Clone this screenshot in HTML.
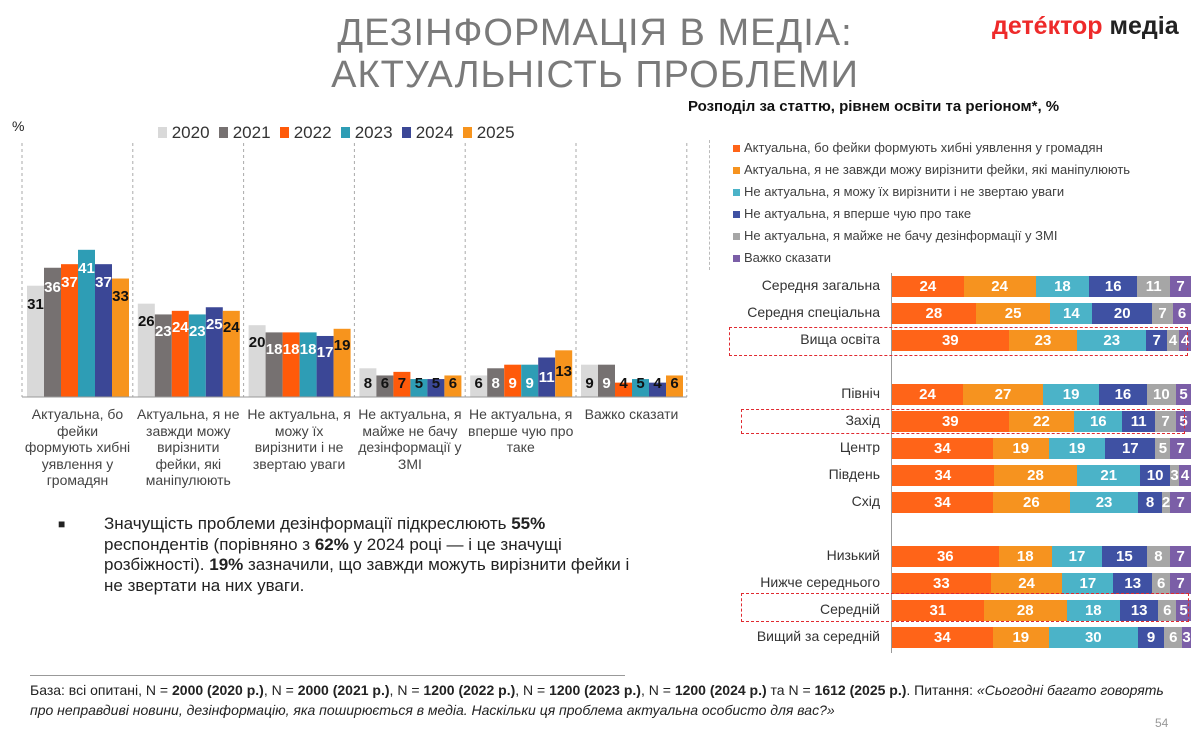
<!DOCTYPE html>
<html><head><meta charset="utf-8"><style>
body{margin:0;width:1200px;height:752px;background:#fff;position:relative;overflow:hidden;font-family:"Liberation Sans","DejaVu Sans",sans-serif;color:#222}
.a{position:absolute}
.row{position:absolute;left:892px;width:299px;height:21px;display:flex}
.row div{color:#fff;font-weight:bold;font-size:15px;text-align:center;line-height:21px;overflow:visible;white-space:nowrap}
.c1{background:#ff6418}.c2{background:#f6931f}.c3{background:#4bb3c8}.c4{background:#3f51a3}.c5{background:#a6a6a6}.c6{background:#7b5ea7}
.lab{position:absolute;right:320px;font-size:14px;color:#333;text-align:right;white-space:nowrap}
.lg{position:absolute;left:733px;font-size:13px;color:#404040}
.lg span{display:inline-block;width:7px;height:7px;margin-right:4px}
.box{position:absolute;border:1.5px dashed #e02a30}
.xl{position:absolute;width:111px;text-align:center;font-size:14px;line-height:16.5px;color:#444}
</style></head><body>
<div class="a" style="left:0;width:1190px;top:12px;text-align:center;font-size:38px;line-height:42px;color:#7a7a7a;letter-spacing:1px">ДЕЗІНФОРМАЦІЯ В МЕДІА:<br>АКТУАЛЬНІСТЬ ПРОБЛЕМИ</div>
<div class="a" style="left:992px;top:12px;font-size:25px;font-weight:bold;color:#ee2a2a">детéктор <span style="color:#222">медіа</span></div>
<div class="a" style="left:688px;top:98px;font-size:15px;font-weight:bold;color:#111">Розподіл за статтю, рівнем освіти та регіоном*, %</div>
<div class="a" style="left:12px;top:118px;font-size:14px">%</div>
<div class="a" style="left:158px;top:123px;font-size:17px;color:#333;white-space:nowrap">
<span style="display:inline-block;width:9px;height:11px;background:#d9d9d9"></span> 2020 &nbsp;<span style="display:inline-block;width:9px;height:11px;background:#767171"></span> 2021 &nbsp;<span style="display:inline-block;width:9px;height:11px;background:#ff5a0a"></span> 2022 &nbsp;<span style="display:inline-block;width:9px;height:11px;background:#2e9db5"></span> 2023 &nbsp;<span style="display:inline-block;width:9px;height:11px;background:#3b4796"></span> 2024 &nbsp;<span style="display:inline-block;width:9px;height:11px;background:#f7941d"></span> 2025</div>
<svg class="a" style="left:0;top:0" width="700" height="752">
<g stroke="#aaa" stroke-dasharray="3,3" stroke-width="1">
<line x1="22" y1="143" x2="22" y2="397"/><line x1="132.8" y1="143" x2="132.8" y2="397"/><line x1="243.6" y1="143" x2="243.6" y2="397"/><line x1="354.4" y1="143" x2="354.4" y2="397"/><line x1="465.2" y1="143" x2="465.2" y2="397"/><line x1="576" y1="143" x2="576" y2="397"/><line x1="686.8" y1="143" x2="686.8" y2="397"/></g>
<g transform="translate(0,397) scale(1,-3.59)">
<g fill="#d9d9d9"><rect x="27" width="17" height="31"/><rect x="137.8" width="17" height="26"/><rect x="248.6" width="17" height="20"/><rect x="359.4" width="17" height="8"/><rect x="470.2" width="17" height="6"/><rect x="581" width="17" height="9"/></g>
<g fill="#767171"><rect x="44" width="17" height="36"/><rect x="154.8" width="17" height="23"/><rect x="265.6" width="17" height="18"/><rect x="376.4" width="17" height="6"/><rect x="487.2" width="17" height="8"/><rect x="598" width="17" height="9"/></g>
<g fill="#ff5a0a"><rect x="61" width="17" height="37"/><rect x="171.8" width="17" height="24"/><rect x="282.6" width="17" height="18"/><rect x="393.4" width="17" height="7"/><rect x="504.2" width="17" height="9"/><rect x="615" width="17" height="4"/></g>
<g fill="#2e9db5"><rect x="78" width="17" height="41"/><rect x="188.8" width="17" height="23"/><rect x="299.6" width="17" height="18"/><rect x="410.4" width="17" height="5"/><rect x="521.2" width="17" height="9"/><rect x="632" width="17" height="5"/></g>
<g fill="#3b4796"><rect x="95" width="17" height="37"/><rect x="205.8" width="17" height="25"/><rect x="316.6" width="17" height="17"/><rect x="427.4" width="17" height="5"/><rect x="538.2" width="17" height="11"/><rect x="649" width="17" height="4"/></g>
<g fill="#f7941d"><rect x="112" width="17" height="33"/><rect x="222.8" width="17" height="24"/><rect x="333.6" width="17" height="19"/><rect x="444.4" width="17" height="6"/><rect x="555.2" width="17" height="13"/><rect x="666" width="17" height="6"/></g>
</g>
<line x1="22" y1="397" x2="687" y2="397" stroke="#999"/>
<g font-size="15" font-weight="bold" text-anchor="middle" font-family="Liberation Sans Narrow,Liberation Sans,sans-serif">
<text x="35.5" y="309" fill="#111">31</text><text x="52.5" y="292" fill="#fff">36</text><text x="69.5" y="287" fill="#fff">37</text><text x="86.5" y="273" fill="#fff">41</text><text x="103.5" y="287" fill="#fff">37</text><text x="120.5" y="301" fill="#111">33</text>
<text x="146.3" y="326" fill="#111">26</text><text x="163.3" y="336" fill="#fff">23</text><text x="180.3" y="332" fill="#fff">24</text><text x="197.3" y="336" fill="#fff">23</text><text x="214.3" y="329" fill="#fff">25</text><text x="231.3" y="332" fill="#111">24</text>
<text x="257.1" y="347" fill="#111">20</text><text x="274.1" y="354" fill="#fff">18</text><text x="291.1" y="354" fill="#fff">18</text><text x="308.1" y="354" fill="#fff">18</text><text x="325.1" y="357" fill="#fff">17</text><text x="342.1" y="350" fill="#111">19</text>
<text x="367.9" y="388" fill="#111">8</text><text x="384.9" y="388" fill="#111">6</text><text x="401.9" y="388" fill="#111">7</text><text x="418.9" y="388" fill="#111">5</text><text x="435.9" y="388" fill="#111">5</text><text x="452.9" y="388" fill="#111">6</text>
<text x="478.7" y="388" fill="#111">6</text><text x="495.7" y="388" fill="#fff">8</text><text x="512.7" y="388" fill="#fff">9</text><text x="529.7" y="388" fill="#fff">9</text><text x="546.7" y="382" fill="#fff">11</text><text x="563.7" y="376" fill="#111">13</text>
<text x="589.5" y="388" fill="#111">9</text><text x="606.5" y="388" fill="#fff">9</text><text x="623.5" y="388" fill="#111">4</text><text x="640.5" y="388" fill="#111">5</text><text x="657.5" y="388" fill="#111">4</text><text x="674.5" y="388" fill="#111">6</text>
</g></svg>
<div class="xl" style="left:22px;top:406px">Актуальна, бо фейки формують хибні уявлення у громадян</div>
<div class="xl" style="left:132.8px;top:406px">Актуальна, я не завжди можу вирізнити фейки, які маніпулюють</div>
<div class="xl" style="left:243.6px;top:406px">Не актуальна, я можу їх вирізнити і не звертаю уваги</div>
<div class="xl" style="left:354.4px;top:406px">Не актуальна, я майже не бачу дезінформації у ЗМІ</div>
<div class="xl" style="left:465.2px;top:406px">Не актуальна, я вперше чую про таке</div>
<div class="xl" style="left:576px;top:406px">Важко сказати</div>

<div class="a" style="left:58px;top:517px;font-size:12px">■</div>
<div class="a" style="left:104px;top:514px;width:540px;font-size:17px;line-height:20.5px;color:#222">Значущість проблеми дезінформації підкреслюють <b>55%</b> респондентів (порівняно з <b>62%</b> у 2024 році — і це значущі розбіжності). <b>19%</b> зазначили, що завжди можуть вирізнити фейки і не звертати на них уваги.</div>

<div class="lg" style="top:140px"><span class="c1"></span>Актуальна, бо фейки формують хибні уявлення у громадян</div>
<div class="lg" style="top:162px"><span class="c2"></span>Актуальна, я не завжди можу вирізнити фейки, які маніпулюють</div>
<div class="lg" style="top:184px"><span class="c3"></span>Не актуальна, я можу їх вирізнити і не звертаю уваги</div>
<div class="lg" style="top:206px"><span class="c4"></span>Не актуальна, я вперше чую про таке</div>
<div class="lg" style="top:228px"><span class="c5"></span>Не актуальна, я майже не бачу дезінформації у ЗМІ</div>
<div class="lg" style="top:250px"><span class="c6"></span>Важко сказати</div>
<div class="a" style="left:709px;top:140px;height:130px;border-left:1px dashed #bbb"></div>
<div class="a" style="left:891px;top:273px;height:380px;border-left:1.5px solid #999"></div>

<div class="lab" style="top:277px">Середня загальна</div>
<div class="row" style="top:276px"><div class="c1" style="flex:24">24</div><div class="c2" style="flex:24">24</div><div class="c3" style="flex:18">18</div><div class="c4" style="flex:16">16</div><div class="c5" style="flex:11">11</div><div class="c6" style="flex:7">7</div></div>
<div class="lab" style="top:304px">Середня спеціальна</div>
<div class="row" style="top:303px"><div class="c1" style="flex:28">28</div><div class="c2" style="flex:25">25</div><div class="c3" style="flex:14">14</div><div class="c4" style="flex:20">20</div><div class="c5" style="flex:7">7</div><div class="c6" style="flex:6">6</div></div>
<div class="lab" style="top:331px">Вища освіта</div>
<div class="row" style="top:330px"><div class="c1" style="flex:39">39</div><div class="c2" style="flex:23">23</div><div class="c3" style="flex:23">23</div><div class="c4" style="flex:7">7</div><div class="c5" style="flex:4">4</div><div class="c6" style="flex:4">4</div></div>

<div class="lab" style="top:385px">Північ</div>
<div class="row" style="top:384px"><div class="c1" style="flex:24">24</div><div class="c2" style="flex:27">27</div><div class="c3" style="flex:19">19</div><div class="c4" style="flex:16">16</div><div class="c5" style="flex:10">10</div><div class="c6" style="flex:5">5</div></div>
<div class="lab" style="top:412px">Захід</div>
<div class="row" style="top:411px"><div class="c1" style="flex:39">39</div><div class="c2" style="flex:22">22</div><div class="c3" style="flex:16">16</div><div class="c4" style="flex:11">11</div><div class="c5" style="flex:7">7</div><div class="c6" style="flex:5">5</div></div>
<div class="lab" style="top:439px">Центр</div>
<div class="row" style="top:438px"><div class="c1" style="flex:34">34</div><div class="c2" style="flex:19">19</div><div class="c3" style="flex:19">19</div><div class="c4" style="flex:17">17</div><div class="c5" style="flex:5">5</div><div class="c6" style="flex:7">7</div></div>
<div class="lab" style="top:466px">Південь</div>
<div class="row" style="top:465px"><div class="c1" style="flex:34">34</div><div class="c2" style="flex:28">28</div><div class="c3" style="flex:21">21</div><div class="c4" style="flex:10">10</div><div class="c5" style="flex:3">3</div><div class="c6" style="flex:4">4</div></div>
<div class="lab" style="top:493px">Схід</div>
<div class="row" style="top:492px"><div class="c1" style="flex:34">34</div><div class="c2" style="flex:26">26</div><div class="c3" style="flex:23">23</div><div class="c4" style="flex:8">8</div><div class="c5" style="flex:2">2</div><div class="c6" style="flex:7">7</div></div>

<div class="lab" style="top:547px">Низький</div>
<div class="row" style="top:546px"><div class="c1" style="flex:36">36</div><div class="c2" style="flex:18">18</div><div class="c3" style="flex:17">17</div><div class="c4" style="flex:15">15</div><div class="c5" style="flex:8">8</div><div class="c6" style="flex:7">7</div></div>
<div class="lab" style="top:574px">Нижче середнього</div>
<div class="row" style="top:573px"><div class="c1" style="flex:33">33</div><div class="c2" style="flex:24">24</div><div class="c3" style="flex:17">17</div><div class="c4" style="flex:13">13</div><div class="c5" style="flex:6">6</div><div class="c6" style="flex:7">7</div></div>
<div class="lab" style="top:601px">Середній</div>
<div class="row" style="top:600px"><div class="c1" style="flex:31">31</div><div class="c2" style="flex:28">28</div><div class="c3" style="flex:18">18</div><div class="c4" style="flex:13">13</div><div class="c5" style="flex:6">6</div><div class="c6" style="flex:5">5</div></div>
<div class="lab" style="top:628px">Вищий за середній</div>
<div class="row" style="top:627px"><div class="c1" style="flex:34">34</div><div class="c2" style="flex:19">19</div><div class="c3" style="flex:30">30</div><div class="c4" style="flex:9">9</div><div class="c5" style="flex:6">6</div><div class="c6" style="flex:3">3</div></div>

<div class="box" style="left:729px;top:327px;width:457px;height:27px"></div>
<div class="box" style="left:741px;top:409px;width:442px;height:23px"></div>
<div class="box" style="left:741px;top:593px;width:446px;height:27px"></div>

<div class="a" style="left:30px;top:675px;width:595px;border-top:1px solid #999"></div>
<div class="a" style="left:30px;top:680px;width:1150px;font-size:14px;line-height:20px;color:#222">База: всі опитані, N = <b>2000 (2020 р.)</b>, N = <b>2000 (2021 р.)</b>, N = <b>1200 (2022 р.)</b>, N = <b>1200 (2023 р.)</b>, N = <b>1200 (2024 р.)</b> та N = <b>1612 (2025 р.)</b>. Питання: <i>«Сьогодні багато говорять про неправдиві новини, дезінформацію, яка поширюється в медіа. Наскільки ця проблема актуальна особисто для вас?»</i></div>
<div class="a" style="left:1155px;top:716px;font-size:12px;color:#999">54</div>
</body></html>
